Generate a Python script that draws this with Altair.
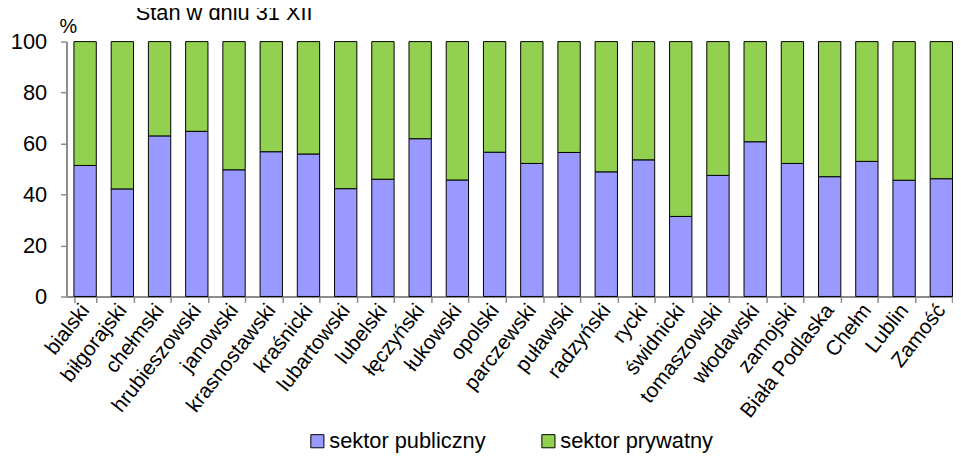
import altair as alt
import pandas as pd

categories = ["bialski", "biłgorajski", "chełmski", "hrubieszowski", "janowski",
              "krasnostawski", "kraśnicki", "lubartowski", "lubelski", "łęczyński",
              "łukowski", "opolski", "parczewski", "puławski", "radzyński", "rycki",
              "świdnicki", "tomaszowski", "włodawski", "zamojski", "Biała Podlaska",
              "Chełm", "Lublin", "Zamość"]
publiczny = [51.4, 42.2, 63.0, 64.8, 49.7, 56.8, 55.9, 42.3, 46.0, 61.9, 45.7, 56.6,
             52.2, 56.5, 48.9, 53.6, 31.4, 47.5, 60.7, 52.2, 47.0, 53.0, 45.6, 46.2]
prywatny = [48.6, 57.8, 37.0, 35.2, 50.3, 43.2, 44.1, 57.7, 54.0, 38.1, 54.3, 43.4,
            47.8, 43.5, 51.1, 46.4, 68.6, 52.5, 39.3, 47.8, 53.0, 47.0, 54.4, 53.8]
series = ["sektor publiczny", "sektor prywatny"]
colors = ["#9999FF", "#92D050"]
y_ticks = [0, 20, 40, 60, 80, 100]
title_text = "Stan w dniu 31 XII"
unit_text = "%"

FONT = "Liberation Sans"

rows = []
for i, c in enumerate(categories):
    rows.append({"kat": c, "sektor": series[0], "val": publiczny[i], "ord": 0})
    rows.append({"kat": c, "sektor": series[1], "val": prywatny[i], "ord": 1})
df = pd.DataFrame(rows)

bars = alt.Chart(df).mark_bar(stroke="black", strokeWidth=1).encode(
    x=alt.X("kat:N", sort=categories,
            scale=alt.Scale(domain=categories, range=[0, 901], paddingInner=0.4, paddingOuter=0.2),
            axis=alt.Axis(title=None, labelAngle=-52, labelFontSize=21, labelFont=FONT,
                          labelColor="black", tickBand="extent", tickSize=6,
                          tickColor="#8c8c8c", domainColor="#8c8c8c", domainWidth=2,
                          tickWidth=1.5, labelPadding=4)),
    y=alt.Y("val:Q", stack="zero",
            scale=alt.Scale(domain=[0, 100], nice=False),
            axis=alt.Axis(title=None, values=y_ticks, grid=False, labelFontSize=22,
                          labelFont=FONT, labelColor="black", tickSize=6,
                          tickColor="#8c8c8c", domainColor="#8c8c8c", domainWidth=2,
                          tickWidth=1.5, labelPadding=14)),
    color=alt.Color("sektor:N", scale=alt.Scale(domain=series, range=colors),
                    legend=alt.Legend(title=None, orient="none", legendX=242, legendY=392,
                                      direction="horizontal", symbolType="square",
                                      symbolSize=175, symbolStrokeColor="black",
                                      symbolStrokeWidth=1, labelFontSize=22, labelFont=FONT,
                                      labelColor="black", labelOffset=1, columnPadding=52)),
    order=alt.Order("ord:Q"),
)

title = alt.Chart(pd.DataFrame({"t": [title_text]})).mark_text(
    font=FONT, fontSize=22, align="center", baseline="alphabetic", color="black"
).encode(x=alt.value(159), y=alt.value(-22), text="t:N")

unit = alt.Chart(pd.DataFrame({"t": [unit_text]})).mark_text(
    font=FONT, fontSize=20, align="left", baseline="alphabetic", color="black"
).encode(x=alt.value(-7), y=alt.value(-9), text="t:N")

chart = alt.layer(bars, title, unit).properties(
    width=894, height=257,
    autosize=alt.AutoSizeParams(type="none"),
    padding={"left": 59, "top": 32, "right": 0, "bottom": 159},
).configure_view(stroke=None)

chart.save("out.html", embed_options={"renderer": "svg", "actions": False})
